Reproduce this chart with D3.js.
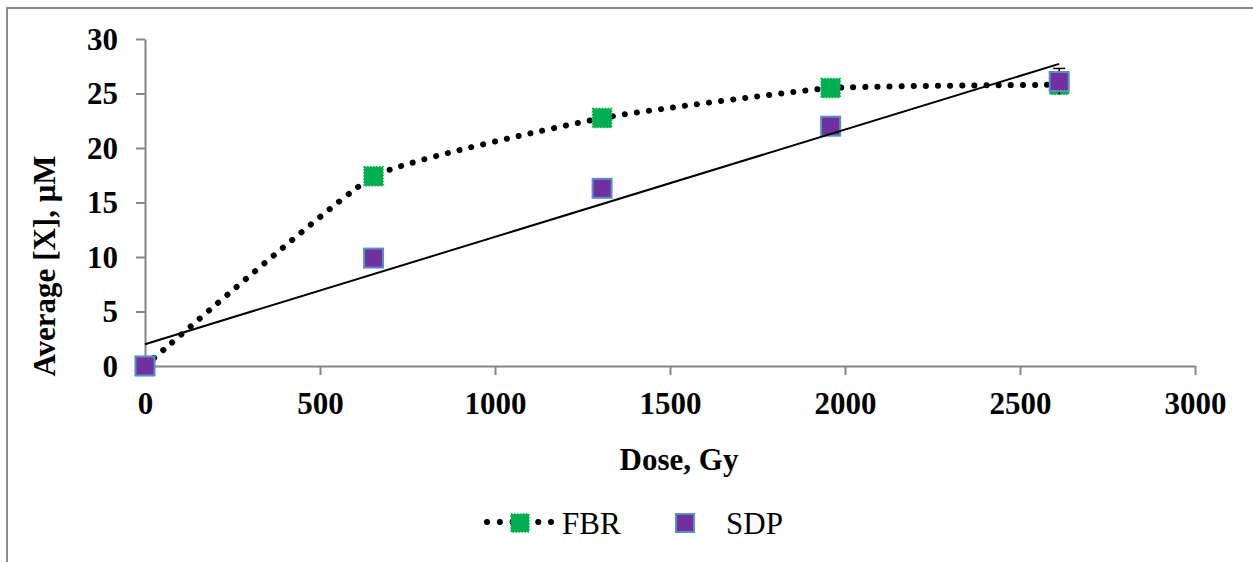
<!DOCTYPE html>
<html>
<head>
<meta charset="utf-8">
<script src="https://cdnjs.cloudflare.com/ajax/libs/d3/7.8.5/d3.min.js"></script>
<style>
  body { margin: 0; background: #fff; }
  text { font-family: "Liberation Serif", "Times New Roman", serif; }
</style>
</head>
<body>
<div id="chart"></div>
<script>
// data
var dose = [0, 653, 1306, 1959, 2612];
var fbr = [0, 17.4, 22.75, 25.5, 25.8];
var sdp = [0, 9.9, 16.3, 22.0, 26.1];
var sdpErr = [0, 0, 0, 0, 1.2];
var xTicks = [0, 500, 1000, 1500, 2000, 2500, 3000];
var yTicks = [0, 5, 10, 15, 20, 25, 30];

var W = 1253, H = 562;
var margin = {top: 39, left: 145},
    width = 1050,
    height = 327;

var svg = d3.select("#chart").append("svg")
    .attr("width", W)
    .attr("height", H);

// outer frame
svg.append("rect")
    .attr("x", 7).attr("y", 8)
    .attr("width", W + 20).attr("height", H + 20)
    .attr("fill", "none")
    .attr("stroke", "#8c8c8c")
    .attr("stroke-width", 2);

var g = svg.append("g")
    .attr("transform", "translate(" + margin.left + "," + margin.top + ")");

var x = d3.scaleLinear().domain([0, 3000]).range([0, width]);
var y = d3.scaleLinear().domain([0, 30]).range([height, 0]);

// axes
var xAxis = g.append("g")
    .attr("transform", "translate(0," + height + ")")
    .call(d3.axisBottom(x).tickValues(xTicks).tickFormat(d3.format("d"))
      .tickSize(9).tickSizeOuter(0).tickPadding(17));
var yAxis = g.append("g")
    .call(d3.axisLeft(y).tickValues(yTicks).tickFormat(d3.format("d"))
      .tickSize(9).tickSizeOuter(0).tickPadding(18));

[xAxis, yAxis].forEach(function(a) {
  a.select(".domain").attr("stroke", "#868686").attr("stroke-width", 2);
  a.selectAll(".tick line").attr("stroke", "#868686").attr("stroke-width", 2);
  a.selectAll(".tick text")
      .attr("fill", "#000")
      .style("font-family", "'Liberation Serif', serif")
      .style("font-size", "31px")
      .style("font-weight", "bold");
});
yAxis.selectAll(".tick text").attr("dy", "0.33em");
xAxis.selectAll(".tick text").attr("dy", "0.71em");

// axis titles
svg.append("text")
    .attr("x", 679).attr("y", 470)
    .attr("text-anchor", "middle")
    .style("font-size", "31px").style("font-weight", "bold")
    .text("Dose, Gy");

svg.append("text")
    .attr("transform", "translate(55,266) rotate(-90)")
    .attr("text-anchor", "middle")
    .style("font-size", "31px").style("font-weight", "bold")
    .text("Average [X], μM");

var fbrData = dose.map(function(d, i) { return {x: d, y: fbr[i]}; });
var sdpData = dose.map(function(d, i) { return {x: d, y: sdp[i], e: sdpErr[i]}; });

// FBR smoothed dotted line
var smooth = d3.line()
    .x(function(d) { return x(d.x); })
    .y(function(d) { return y(d.y); })
    .curve(d3.curveCardinal.tension(0.6));

var dots = "0.1 12";
g.append("path")
    .datum(fbrData)
    .attr("fill", "none")
    .attr("stroke", "#000")
    .attr("stroke-width", 6)
    .attr("stroke-linecap", "round")
    .attr("stroke-dasharray", dots)
    .attr("d", smooth);

var ms = 19;
// FBR markers
g.selectAll(".fbr")
    .data(fbrData)
  .enter().append("rect")
    .attr("class", "fbr")
    .attr("x", function(d) { return x(d.x) - ms / 2; })
    .attr("y", function(d) { return y(d.y) - ms / 2; })
    .attr("width", ms).attr("height", ms)
    .attr("fill", "#00B050")
    .attr("stroke", "#00B050")
    .attr("stroke-width", 1.5)
    .attr("stroke-dasharray", "1.5 1.5");

// SDP error bars
var eb = g.selectAll(".err")
    .data(sdpData.filter(function(d) { return d.e > 0; }))
  .enter().append("g").attr("class", "err");
eb.append("line")
    .attr("x1", function(d) { return x(d.x); })
    .attr("x2", function(d) { return x(d.x); })
    .attr("y1", function(d) { return y(d.y - d.e); })
    .attr("y2", function(d) { return y(d.y + d.e); })
    .attr("stroke", "#000").attr("stroke-width", 1.5);
eb.append("line")
    .attr("x1", function(d) { return x(d.x) - 6; })
    .attr("x2", function(d) { return x(d.x) + 6; })
    .attr("y1", function(d) { return y(d.y + d.e); })
    .attr("y2", function(d) { return y(d.y + d.e); })
    .attr("stroke", "#000").attr("stroke-width", 1.5);

// SDP markers
g.selectAll(".sdp")
    .data(sdpData)
  .enter().append("rect")
    .attr("class", "sdp")
    .attr("x", function(d) { return x(d.x) - ms / 2; })
    .attr("y", function(d) { return y(d.y) - ms / 2; })
    .attr("width", ms).attr("height", ms)
    .attr("fill", "#7030A0")
    .attr("stroke", "#5B8FC9")
    .attr("stroke-width", 2);

// linear trendline for SDP (least squares)
var mx = d3.mean(dose), my = d3.mean(sdp);
var sxy = d3.sum(dose, function(d, i) { return (d - mx) * (sdp[i] - my); });
var sxx = d3.sum(dose, function(d) { return (d - mx) * (d - mx); });
var slope = sxy / sxx, icpt = my - slope * mx;
var xEnd = d3.max(dose);

g.append("line")
    .attr("x1", x(0)).attr("y1", y(icpt))
    .attr("x2", x(xEnd)).attr("y2", y(icpt + slope * xEnd))
    .attr("stroke", "#000")
    .attr("stroke-width", 2);

// legend
var leg = svg.append("g");
leg.append("line")
    .attr("x1", 487).attr("x2", 551).attr("y1", 522).attr("y2", 522)
    .attr("stroke", "#000").attr("stroke-width", 6)
    .attr("stroke-linecap", "round").attr("stroke-dasharray", "0.1 12.7");
leg.append("rect")
    .attr("x", 511).attr("y", 514).attr("width", 18).attr("height", 18)
    .attr("fill", "#00B050").attr("stroke", "#00B050")
    .attr("stroke-width", 1.5).attr("stroke-dasharray", "1.5 1.5");
leg.append("text")
    .attr("x", 562).attr("y", 534)
    .style("font-size", "31px")
    .text("FBR");
leg.append("rect")
    .attr("x", 676).attr("y", 514).attr("width", 18).attr("height", 18)
    .attr("fill", "#7030A0").attr("stroke", "#5B8FC9").attr("stroke-width", 2);
leg.append("text")
    .attr("x", 726).attr("y", 534)
    .style("font-size", "31px")
    .text("SDP");
</script>
</body>
</html>
